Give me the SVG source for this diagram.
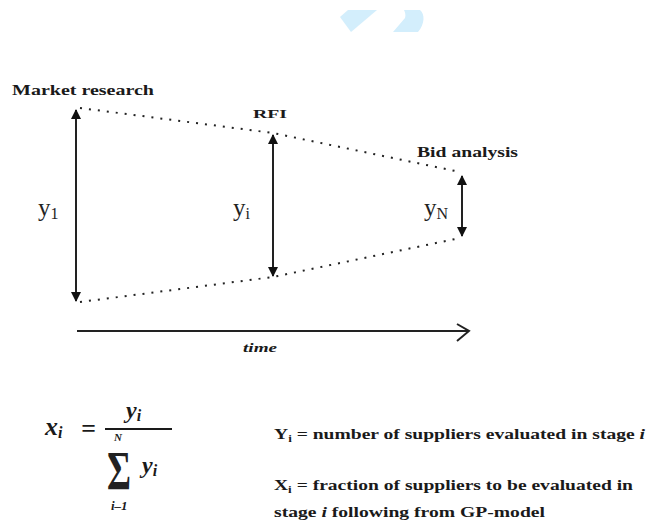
<svg xmlns="http://www.w3.org/2000/svg" width="651" height="523" viewBox="0 0 651 523">
<style>
.lbl{font-family:"Liberation Serif","Times New Roman",serif;font-weight:bold;fill:#1a1a1a}
.var{font-family:"Liberation Serif","Times New Roman",serif;fill:#222}
.math{font-family:"Liberation Serif","Times New Roman",serif;font-weight:bold;font-style:italic;fill:#1a1a1a}
.dot{fill:none;stroke:#222;stroke-width:2;stroke-dasharray:2 7}
.arr{stroke:#222;stroke-width:2}
</style>
<defs>
<marker id="tri" viewBox="0 0 10 10" refX="9" refY="5" markerWidth="10" markerHeight="10" markerUnits="userSpaceOnUse" orient="auto-start-reverse">
<path d="M0,0 L10,5 L0,10 z" fill="#111"/>
</marker>
</defs>
<rect width="651" height="523" fill="#fff"/>
<g id="logo" fill="#d3eefc">
<polygon points="340,17 348,10 377,10 351,32"/>
<path d="M393,32 L405,18 C406,15 405,12 404,10 L420,10 C425,14 425,24 418,32 Z"/>
</g>
<g id="connectors">
<polyline class="dot" points="80,108 273,133 460,172"/>
<polyline class="dot" points="80,302 273,277 460,238"/>
<line class="arr" x1="76" y1="110" x2="76" y2="301" marker-start="url(#tri)" marker-end="url(#tri)"/>
<line class="arr" x1="273" y1="135" x2="273" y2="276" marker-start="url(#tri)" marker-end="url(#tri)"/>
<line class="arr" x1="462" y1="176" x2="462" y2="236" marker-start="url(#tri)" marker-end="url(#tri)"/>
<line class="arr" x1="77" y1="331" x2="469" y2="331"/>
<polyline points="457,324 469,331 457,341" fill="none" stroke="#222" stroke-width="2"/>
</g>
<g id="market-research"><text class="lbl" x="12" y="95" font-size="15" textLength="142" lengthAdjust="spacingAndGlyphs">Market research</text></g>
<g id="rfi"><text class="lbl" x="253" y="118" font-size="13" textLength="34" lengthAdjust="spacingAndGlyphs">RFI</text></g>
<g id="bid-analysis"><text class="lbl" x="417" y="157" font-size="15" textLength="101" lengthAdjust="spacingAndGlyphs">Bid analysis</text></g>
<g id="y1"><text class="var" x="38" y="216" font-size="25">y<tspan font-size="16" dy="3">1</tspan></text></g>
<g id="yi"><text class="var" x="233" y="216" font-size="25">y<tspan font-size="16" dy="3">i</tspan></text></g>
<g id="yN"><text class="var" x="424" y="216" font-size="25">y<tspan font-size="16" dy="3">N</tspan></text></g>
<g id="time"><text class="math" x="243" y="352" font-size="13" textLength="34" lengthAdjust="spacingAndGlyphs">time</text></g>
<g id="formula">
<text class="math" x="45" y="435" font-size="26">x<tspan font-size="16" dy="3">i</tspan></text>
<text class="math" x="81" y="437" font-size="26" font-style="normal">=</text>
<line x1="105" y1="429" x2="172" y2="429" stroke="#1a1a1a" stroke-width="2"/>
<text class="math" x="126" y="418" font-size="24">y<tspan font-size="16" dy="3">i</tspan></text>
<text class="math" x="114" y="441" font-size="11">N</text>
<text class="var" transform="translate(107,489) scale(0.68,1)" font-size="54" font-weight="bold">Σ</text>
<text class="math" x="142" y="473" font-size="24">y<tspan font-size="16" dy="3">i</tspan></text>
<text class="math" x="111" y="510" font-size="13">i–1</text>
</g>
<g id="legend-y"><text class="lbl" x="274" y="439" font-size="15" textLength="371" lengthAdjust="spacingAndGlyphs">Y<tspan font-size="10" dy="3">i</tspan><tspan dy="-3"> = number of suppliers evaluated in stage </tspan><tspan font-style="italic">i</tspan></text></g>
<g id="legend-x">
<text class="lbl" x="274" y="490" font-size="15" textLength="359" lengthAdjust="spacingAndGlyphs">X<tspan font-size="10" dy="3">i</tspan><tspan dy="-3"> = fraction of suppliers to be evaluated in</tspan></text>
<text class="lbl" x="274" y="517" font-size="15" textLength="271" lengthAdjust="spacingAndGlyphs">stage <tspan font-style="italic">i</tspan> following from GP-model</text>
</g>
</svg>
